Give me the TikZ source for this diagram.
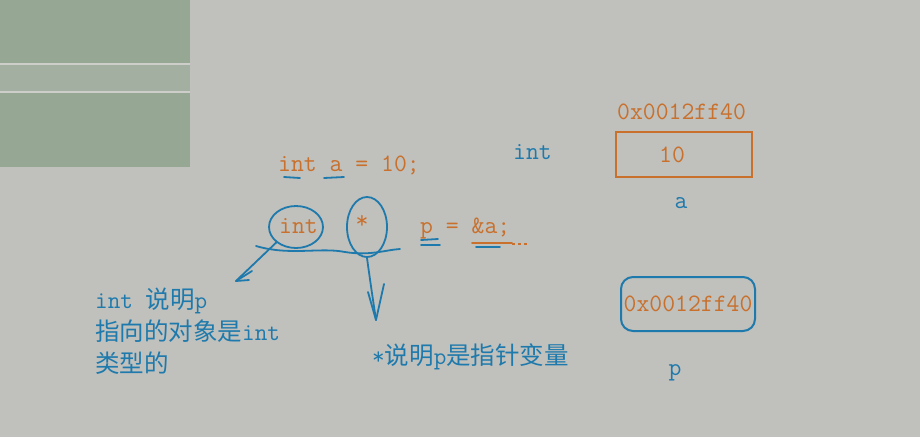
\documentclass[tikz,border=0pt]{standalone}
\usepackage{fontspec}
\newfontfamily\cjk{Noto Sans CJK SC}
\usetikzlibrary{positioning,shapes.geometric}
\definecolor{slidegray}{RGB}{192,192,188}
\definecolor{panelgreen}{RGB}{150,168,148}
\definecolor{codeorange}{RGB}{200,112,44}
\definecolor{inkblue}{RGB}{30,122,172}

\begin{document}
\begin{tikzpicture}[x=1pt,y=-1pt,
  txt/.style={font=\fontsize{25}{30}\selectfont\ttfamily,inner sep=0pt},
  codetxt/.style={txt,text=codeorange},
  inktxt/.style={txt,text=inkblue},
  note/.style={inktxt,align=left,font=\fontsize{24.5}{32}\selectfont\ttfamily},
  pen/.style={draw=inkblue,line width=1.8pt,line cap=round,line join=round}]
\fill[slidegray] (0,0) rectangle (920,437);
\useasboundingbox (0,0) rectangle (920,437);
% panel at top left
\fill[panelgreen] (0,0) rectangle (190,167);
\fill[panelgreen!70!slidegray] (0,64) rectangle (190,92);
\draw[slidegray!80!white,line width=2pt] (0,64) -- (190,64) (0,92) -- (190,92);
% code lines
\node[codetxt,anchor=base west] (decla) at (278,171) {int a = 10;};
\node[codetxt,anchor=base west] (kint) at (279,233) {int};
\node[codetxt] (kstar) at (362,222) {*};
\node[codetxt,anchor=base west] (assign) at (420,233) {p = \&a;};
% memory cells
\node[inktxt,anchor=base west] (tint) at (513,159) {int};
\node[codetxt,anchor=base west] (addr) at (617,119) {0x0012ff40};
\node[draw=codeorange,line width=2pt,minimum width=136,minimum height=45] (abox) at (684,154.5) {};
\node[codetxt] (aval) at (672,155) {10};
\node[inktxt] (aname) at (681,203) {a};
\node[draw=inkblue,line width=2pt,rounded corners=12pt,minimum width=134,minimum height=54,codetxt] (pbox) at (688,304) {0x0012ff40};
\node[inktxt] (pname) at (675,373) {p};
% notes
\node[note,anchor=north west] (intnote) at (95,288) {int {\cjk 说明}p\\{\cjk 指向的对象是}int\\{\cjk 类型的}};
\node[note,anchor=base west] (starnote) at (372,364) {*{\cjk 说明}p{\cjk 是指针变量}};
% hand strokes
\node[pen,ellipse,minimum width=54,minimum height=42] (intring) at (296,227) {};
\node[pen,ellipse,minimum width=40,minimum height=60] (starring) at (367,227) {};
\draw[pen] (256,246) .. controls (290,256) and (320,247) .. (345,252)
  .. controls (370,256) and (385,250) .. (400,249);
\coordinate (tipa) at (236,281);
\coordinate (tipb) at (376,320);
\draw[pen] (intring.south west) -- (tipa) -- (249,280);
\draw[pen] (tipa) -- (252,271);
\draw[pen] (starring.south) .. controls (370,280) and (373,300) .. (tipb);
\draw[pen] (368,292) -- (tipb) -- (384,284);
% underlines
\draw[pen] (284,177) -- (300,178);
\draw[pen] (324,178) -- (344,177);
\draw[pen] (421,240) -- (438,239);
\draw[pen] (421,245) -- (440,245);
\draw[draw=codeorange,line width=1.8pt,line cap=round] (472,243) -- (512,243);
\draw[draw=codeorange,line width=1.8pt,dashed] (512,244) -- (528,244);
\draw[pen] (476,247) -- (500,247);
\end{tikzpicture}
\end{document}
